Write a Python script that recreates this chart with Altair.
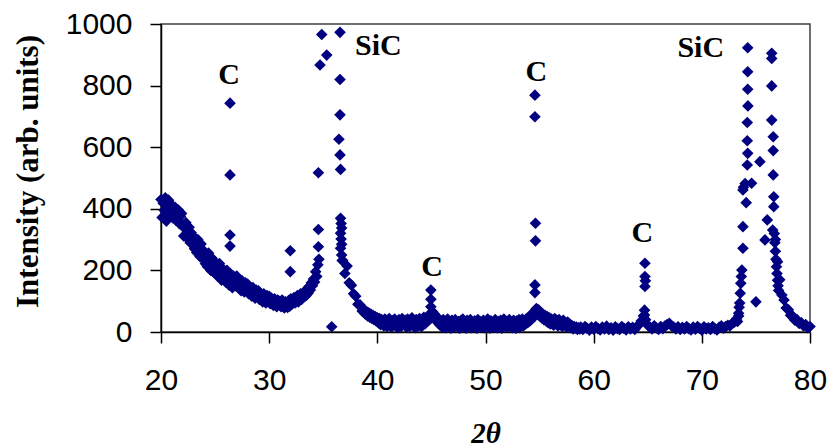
import altair as alt
import pandas as pd

# Broad background of the diffraction scan in stretches between the sharp
# reflections: (first angle, angular step, readings).
scan_a_start, scan_a_step = 20.0, 0.1
scan_a = [
    430, 372, 418, 395, 436, 360, 410, 428, 378, 402,
    412, 370, 398, 405, 362, 390, 396, 352, 376, 385,
    348, 312, 336, 355, 305, 326, 340, 290, 322, 300,
    310, 270, 295, 258, 300, 278, 245, 286, 262, 236,
    262, 222, 248, 212, 256, 230, 200, 240, 218, 194,
    228, 186, 212, 180, 222, 196, 168, 206, 176, 190,
    162, 200, 176, 152, 190, 168, 144, 182, 160, 150,
    182, 146, 170, 156, 134, 166, 150, 130, 160, 138,
    156, 124, 146, 132, 116, 144, 126, 110, 136, 120,
    134, 106, 126, 114, 98, 124, 108, 94, 118, 102,
    116, 92, 110, 100, 86, 108, 94, 82, 104, 90,
    100, 82, 104, 88, 78, 98, 86, 80, 102, 84,
    108, 90, 100, 112, 94, 104, 118, 98, 110, 124,
    106, 122, 114, 132, 118, 140, 126, 148, 136, 160,
    150, 172, 162, 196, 180, 218, 236,
]
scan_b_start, scan_b_step = 36.8, 0.2
scan_b = [232, 190, 214, 160, 152, 124, 116, 90, 88, 68]
scan_c_start, scan_c_step = 38.8, 0.1
scan_c = [
    72, 58, 66, 52, 62, 48, 58, 44, 54, 40,
    50, 36, 46, 30, 44, 24, 40, 32, 20, 42,
    30, 18, 38, 44, 26, 16, 36, 24, 42, 20,
    34, 14, 40, 28, 18, 44, 30, 22, 38, 16,
    42, 26, 18, 36, 46, 22, 32, 14, 40, 28,
    20, 44, 30, 18, 38, 48, 26, 42, 34, 52,
    40, 60, 46, 66, 50, 58, 38, 48, 30, 42,
    22, 36, 16, 40, 26, 14, 34, 42, 20, 30,
    12, 38, 24, 16, 40, 28, 18, 34, 12, 36,
    22, 42, 16, 30, 12, 38, 24, 20, 40, 14,
    32, 18, 36, 26, 12, 40, 22, 34, 16, 28,
    38, 14, 30, 20, 42, 24, 12, 36, 18, 32,
    16, 40, 26, 14, 34, 22, 38, 12, 30, 42,
    20, 34, 16, 28, 40, 18, 32, 14, 38, 24,
    12, 36, 22, 40, 16, 30, 42, 20, 34, 26,
    44, 30, 48, 36, 56, 42, 62, 50, 70, 76,
    60, 72, 52, 64, 46, 58, 40, 54, 36, 50,
    30, 46, 26, 42, 34, 22, 44, 28, 38, 20,
    40, 24, 34, 18, 38, 26, 30, 16, 32, 22,
    26, 14, 20, 10, 18, 12, 16, 8, 14, 10,
]
scan_d_start, scan_d_step = 58.8, 0.2
scan_d = [
    16, 8, 18, 12, 6, 16, 9, 18, 11, 7,
    16, 10, 19, 8, 14, 6, 17, 11, 8, 18,
    12, 7, 17, 10, 15, 8, 18, 24, 36, 52,
    40, 22, 16, 10, 20, 13, 8, 18, 11, 20,
    24, 28, 20, 16, 10, 17, 8, 15, 10, 18,
    11, 7, 16, 9, 18, 12, 6, 17, 10, 14,
    8, 18, 11, 7, 15, 20, 12, 18, 22, 20,
    28, 32, 42, 52,
]
scan_e_start, scan_e_step = 76.8, 0.2
scan_e = [
    300, 228, 170, 120, 104, 78, 72, 54, 52, 38,
    40, 28, 30, 20, 24, 14, 18,
]

# Individual readings across the sharp C and SiC reflections
peak_two_theta = [
    26.38, 26.38, 26.38, 26.38,
    31.95, 31.95,
    34.55, 34.55, 34.55, 34.70, 34.86, 35.32,
    35.78,
    36.55, 36.55, 36.55, 36.45, 36.55, 36.60,
    36.60, 36.65, 36.70, 36.60, 36.65, 36.70, 36.60, 36.70, 36.75,
    44.95, 44.95, 44.95,
    54.57, 54.57, 54.62, 54.62, 54.57, 54.57,
    64.74, 64.74, 64.78, 64.74, 64.70, 64.70,
    73.30, 73.40, 73.45, 73.50, 73.55, 73.60, 73.65, 73.70,
    73.80, 73.80, 74.10, 73.80, 73.85, 74.00, 74.60,
    74.20, 74.24, 74.20, 74.20, 74.26, 74.24, 74.24, 74.24,
    75.00, 75.37,
    75.84, 76.05, 76.55,
    76.65, 76.65, 76.60, 76.60, 76.60, 76.46, 76.46, 76.46, 76.46,
    76.70, 76.75, 76.80, 76.85, 76.90, 76.95, 77.00, 77.05, 77.10,
]
peak_intensity = [
    743, 510, 315, 279,
    264, 196,
    277, 333, 517, 867, 966, 899,
    17,
    973, 820, 705, 626, 575, 528,
    369, 352, 338, 321, 302, 285, 272, 250, 232,
    136, 106, 82,
    769, 699, 353, 296, 153, 128,
    223, 180, 166, 148, 71, 55,
    34, 61, 80, 94, 126, 158, 180, 201,
    272, 342, 420, 461, 470, 482, 483,
    542, 580, 621, 680, 734, 788, 845, 923,
    98, 553,
    299, 364, 331,
    407, 439, 510, 589, 634, 688, 799, 888, 905,
    320, 290, 262, 236, 212, 190, 168, 150, 135,
]

# Phase labels over the reflections
label_text = ["C", "SiC", "C", "C", "C", "SiC"]
label_two_theta = [26.3, 40.1, 45.05, 54.7, 64.5, 69.9]
label_intensity = [834, 929, 211, 844, 321, 922]

rows = []
for start, inc, values in (
    (scan_a_start, scan_a_step, scan_a),
    (scan_b_start, scan_b_step, scan_b),
    (scan_c_start, scan_c_step, scan_c),
    (scan_d_start, scan_d_step, scan_d),
    (scan_e_start, scan_e_step, scan_e),
):
    for i, v in enumerate(values):
        rows.append({"two_theta": round(start + inc * i, 2), "intensity": v})
for t, v in zip(peak_two_theta, peak_intensity):
    rows.append({"two_theta": t, "intensity": v})
points = pd.DataFrame(rows)

labels = pd.DataFrame({
    "text": label_text,
    "two_theta": label_two_theta,
    "intensity": label_intensity,
})

x_scale = alt.Scale(domain=[20, 80], nice=False, zero=False)
y_scale = alt.Scale(domain=[0, 1000], nice=False)

x_axis = alt.Axis(
    title="2θ",
    values=[20, 30, 40, 50, 60, 70, 80],
    format="d",
    grid=False,
    tickSize=11,
    tickWidth=1.5,
    tickColor="#000000",
    domainColor="#000000",
    domainWidth=1.5,
    labelFont="Liberation Sans",
    labelFontSize=30,
    labelColor="#000000",
    labelPadding=22,
    labelFlush=False,
    titleFont="Liberation Serif",
    titleFontSize=29,
    titleFontWeight="bold",
    titleFontStyle="italic",
    titleColor="#000000",
    titleBaseline="alphabetic",
    titleY=110,
)
y_axis = alt.Axis(
    title="Intensity (arb. units)",
    values=[0, 200, 400, 600, 800, 1000],
    format="d",
    grid=False,
    tickSize=11,
    tickWidth=1.5,
    tickColor="#000000",
    domainColor="#000000",
    domainWidth=1.5,
    labelFont="Liberation Sans",
    labelFontSize=30,
    labelColor="#000000",
    labelPadding=18,
    labelFlush=False,
    titleFont="Liberation Serif",
    titleFontSize=31,
    titleFontWeight="bold",
    titleColor="#000000",
    titleAngle=270,
    titleBaseline="alphabetic",
    titleAlign="center",
    titleX=-124,
    titleY=147,
)

pattern = alt.Chart(points).mark_point(
    shape="diamond", filled=True, size=135, color="#000080", opacity=1
).encode(
    x=alt.X("two_theta:Q", scale=x_scale, axis=x_axis),
    y=alt.Y("intensity:Q", scale=y_scale, axis=y_axis),
)

phase_labels = alt.Chart(labels).mark_text(
    font="Liberation Serif", fontSize=30, fontWeight="bold", color="#000000",
    align="center", baseline="middle",
).encode(
    x=alt.X("two_theta:Q", scale=x_scale),
    y=alt.Y("intensity:Q", scale=y_scale),
    text="text:N",
)

chart = alt.layer(pattern, phase_labels).properties(
    width=649,
    height=308,
    autosize=alt.AutoSizeParams(type="none"),
    padding={"left": 161, "top": 24, "right": 22, "bottom": 116},
    background="#ffffff",
).configure_view(
    stroke="#404040",
    strokeWidth=1.5,
)

chart.save("out.html", embed_options={"renderer": "svg", "actions": False})
